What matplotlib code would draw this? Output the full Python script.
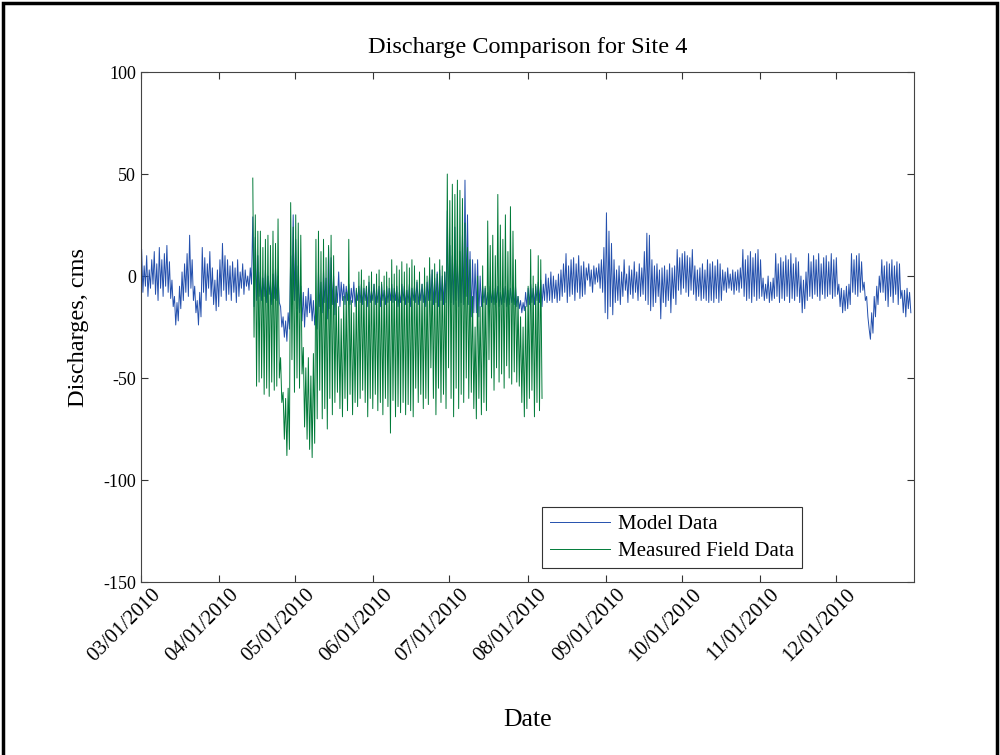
import numpy as np
import matplotlib
matplotlib.use("Agg")
import matplotlib.pyplot as plt
import matplotlib.dates as mdates
from matplotlib.patches import Rectangle
from matplotlib.transforms import ScaledTranslation
import datetime as dt

# ---------------- data (daily high / low) ----------------
model_start = dt.date(2010, 3, 1)
model_high = [13, 5, 10, 3, 8,
              12, 6, 14, 8, 11, 15, 7,
              -2, -10, -13, -5,
              2, 6, 11, 20, 8,
              -5, -12, -8,
              14, 9, 6, 12, 4,
              -2, 3,
              8, 16, 10,
              8, 5, 7, 4, 8, 2, 6,
              3, 0, 4,
              29, 19, 10,
              2, -1, 3, 0, -2, 1, 4, 0,
              -15, -20, -22, -18,
              10, 30, 18, 5, -5,
              -8, -10, -6, -9, -12, -15,
              2, -3, 3, -1, 14, 9, 0, -5, 2, -3, -4,
              -5, -4, -6, -3, -7, -5, -4, -6, -5, -3, -7, -4, -6, -5, -4, -7, -5, -6,
              -4, -6, -5, -8, -4, -5, -7, -4, -6, -5, -3, -6, -4, -5, -3,
              1, 3, -1, 2, 3, 0, 2,
              32, 15, 10, 24, 8, 12, 20,
              47, 30, 12, 8,
              6, 8, 0,
              -5, -6, -8, -5, -7, -6, -5, -8, -6, -5, -7, -6, -8, -5,
              -10, -12, -13, -8, -6,
              -4, -6, -5, -3, -2, -4,
              1, -1, 2, 0, -2, 1, 3,
              6, 11, 5, 8, 9, 6, 10, 5, 7,
              4, 6, 3, 5, 4, 6, 8,
              14, 31, 22, 16,
              8, 3, 5, 2,
              8, 1, 5, 3, 7, 2, 6, 4,
              12, 21, 20, 8, 5,
              6, 3, 4, 5, 3, 6, 4, 5,
              13, 9, 11, 12, 10, 9, 13,
              5, 3, 4, 6, 3,
              8, 6, 7, 5, 8, 6,
              3, 2, 4, 1, 3, 2, 3, 4,
              13, 8, 10, 12, 9, 11, 13, 8,
              -1, -4, 0, -3, -1,
              11, 6, 9, 7, 10, 8, 11, 6, 9, 7,
              0, -2, 2,
              11, 7, 10, 8, 11, 6, 9, 10, 7, 11, 8, 9,
              -4, -6, -7, -5, -4,
              11, 8, 10, 11, 7,
              -3, -10, -26,
              -18, -10, -5, 0,
              8, 5, 7, 6, 8, 5, 7, 6,
              -7, -7, -6, -8]
model_low = [-8, -5, -10, -6, -4,
             -9, -12, -6, -10, -5, -8, -11,
             -15, -24, -22, -16,
             -12, -8, -10, -6, -12,
             -18, -24, -20,
             -8, -12, -6, -10, -14,
             -17, -15,
             -10, -7, -12,
             -9, -12, -8, -13, -10, -6, -9,
             -5, -7, -4,
             -15, -12, -10,
             -12, -10, -13, -9, -14, -11, -12, -13,
             -25, -30, -32, -26,
             -14, -12, -16, -18, -22,
             -25, -20, -18, -22, -24, -26,
             -15, -18, -13, -21, -16, -14, -19, -13, -15, -12, -14,
             -12, -14, -13, -15, -12, -13, -14, -12, -15, -13, -12, -14, -13, -15, -12, -14, -13, -12,
             -13, -12, -15, -13, -12, -14, -13, -15, -12, -13, -14, -12, -13, -15, -12,
             -12, -14, -13, -15, -12, -14, -13,
             -15, -13, -14, -12, -15, -13, -14,
             -10, -14, -20, -18,
             -18, -20, -15,
             -13, -14, -15, -13, -14, -13, -15, -14, -13, -15, -14, -13, -14, -15,
             -16, -18, -17, -15, -14,
             -13, -14, -12, -13, -15, -12,
             -13, -12, -13, -11, -13, -12, -10,
             -8, -13, -10, -9, -12, -8, -11, -10, -9,
             -2, -5, -8, -4, -3, -6, -8,
             -18, -21, -15, -19,
             -13, -12, -14, -10,
             -7, -13, -9, -11, -8, -12, -10, -9,
             -12, -14, -17, -15, -13,
             -10, -21, -13, -15, -12, -18, -11, -14,
             -7, -9, -6, -8, -10, -7, -9,
             -12, -10, -12, -11, -12,
             -13, -12, -13, -11, -13, -12,
             -7, -8, -6, -7, -9, -7, -8, -6,
             -10, -12, -11, -13, -10, -12, -11, -10,
             -12, -11, -13, -12, -11,
             -10, -13, -11, -12, -10, -13, -11, -12, -10, -13,
             -18, -16, -12,
             -10, -11, -9, -10, -12, -9, -11, -10, -9, -11, -10, -9,
             -15, -18, -17, -16, -14,
             -8, -9, -10, -8, -7,
             -12, -20, -31,
             -28, -20, -14, -8,
             -8, -12, -15, -10, -13, -9, -14, -11,
             -18, -20, -16, -18]

field_start = dt.date(2010, 4, 14)
field_high = [48, 30, 22,
              22, 14, 18, 20, 15, 22, 16, 28,
              -40, -57, -60, -55,
              36, 24, 30, 26, 20,
              -35, -45, -40, -49, -38, 18,
              22, 12, 18, 9, 15, 20, 10,
              -5, -15, -21, -10, -8, 18, -12, -18, -6, 2,
              3, -2, -5, 0, 2, -4, 1, 3, -3, 0, 2, -1,
              8, 1, 5, 3, 7, 2, 6, 4, 8,
              5, -2, 2, -4, 4, 0,
              9, 3, 6, 1, 8, 5, 2,
              50, 37, 45, 40, 47, 42, 38,
              26, 14,
              8, -10, -25, 0, -15, 5, -5,
              27, 15, 20, 10, 40, 25, 18, 30, 12, 34, 22, 8,
              -10, -20, -25, -15, -5,
              13, 0, -4, 10, 8]
field_low = [-30, -54, -52,
             -50, -58, -55, -59, -52, -56, -54, -50,
             -62, -80, -88, -85,
             -41, -57, -50, -55, -48,
             -74, -80, -85, -89, -82, -70,
             -56, -70, -65, -75, -60, -68, -62,
             -57, -65, -69, -60, -66, -58, -68, -62, -64, -60,
             -56, -62, -69, -60, -65, -58, -66, -62, -68, -60, -64, -77,
             -61, -69, -64, -67, -62, -68, -63, -66, -69,
             -55, -62, -58, -65, -60, -63,
             -45, -60, -68, -55, -62, -58, -65,
             -45, -60, -69, -55, -65, -58, -62,
             -50, -60,
             -57, -65, -70, -60, -68, -62, -66,
             -41, -50, -56, -45, -52, -48, -55, -44, -50, -53, -47, -52,
             -54, -62, -69, -65, -60,
             -56, -69, -62, -66, -60]

tick_labels = ["03/01/2010", "04/01/2010", "05/01/2010", "06/01/2010", "07/01/2010",
               "08/01/2010", "09/01/2010", "10/01/2010", "11/01/2010", "12/01/2010"]
y_ticks = [-150, -100, -50, 0, 50, 100]


def zigzag(start, hi, lo):
    n = len(hi)
    days = np.arange(n, dtype=float)
    t = np.empty(2 * n)
    v = np.empty(2 * n)
    t[0::2] = days + 0.25
    t[1::2] = days + 0.75
    v[0::2] = hi
    v[1::2] = lo
    return mdates.date2num(start) + t, v


plt.rcParams['font.family'] = ['Liberation Serif', 'DejaVu Serif']
plt.rcParams['axes.unicode_minus'] = False

fig = plt.figure(figsize=(10, 7.55), dpi=100)
ax = fig.add_axes([0.141, 0.2291, 0.773, 0.6755])

mx, my = zigzag(model_start, model_high, model_low)
fx, fy = zigzag(field_start, field_high, field_low)
ax.plot(mx, my, color='#2450ad', lw=0.7, label='Model Data')
ax.plot(fx, fy, color='#007a38', lw=0.7, label='Measured Field Data')

ax.set_xlim(mdates.date2num(dt.date(2010, 3, 1)), mdates.date2num(dt.date(2011, 1, 1)))
ax.set_ylim(-150, 100)
ax.tick_params(direction='in', length=5, width=0.8, top=True, right=True, color='#333333')
ax.tick_params(axis='x', pad=2)
tick_pos = [mdates.date2num(dt.datetime.strptime(s, "%m/%d/%Y")) for s in tick_labels]
ax.set_xticks(tick_pos)
ax.set_xticklabels(tick_labels, rotation=45, ha='right', rotation_mode='anchor', fontsize=15)
ax.set_yticks(y_ticks)
ax.set_yticklabels([str(v) for v in y_ticks], fontsize=13)
shift = ScaledTranslation(10 / 100, 0, fig.dpi_scale_trans)
for lab in ax.get_xticklabels():
    lab.set_transform(lab.get_transform() + shift)
for s in ax.spines.values():
    s.set_color('#444444')
    s.set_linewidth(0.8)

ax.set_title('Discharge Comparison for Site 4', fontsize=17.5, pad=14)
ax.set_ylabel('Discharges, cms', fontsize=17.5)
ax.yaxis.set_label_coords(-0.0815, 0.5)
ax.yaxis.label.set_va('center')
ax.set_xlabel('Date', fontsize=18.5)
ax.xaxis.set_label_coords(0.5, -0.27)
ax.xaxis.label.set_va('center')

leg = ax.legend(loc='lower right', bbox_to_anchor=(0.855, 0.027), borderaxespad=0,
                fontsize=15, fancybox=False, edgecolor='#333333', framealpha=1,
                handlelength=2.9, borderpad=0.35, labelspacing=0.35, handletextpad=0.4)
leg.get_frame().set_linewidth(0.8)

fig.patches.append(Rectangle((0.003, -0.01), 0.994, 1.006, transform=fig.transFigure,
                             fill=False, edgecolor='black', linewidth=2.5))

fig.savefig('out.png', dpi=100)
